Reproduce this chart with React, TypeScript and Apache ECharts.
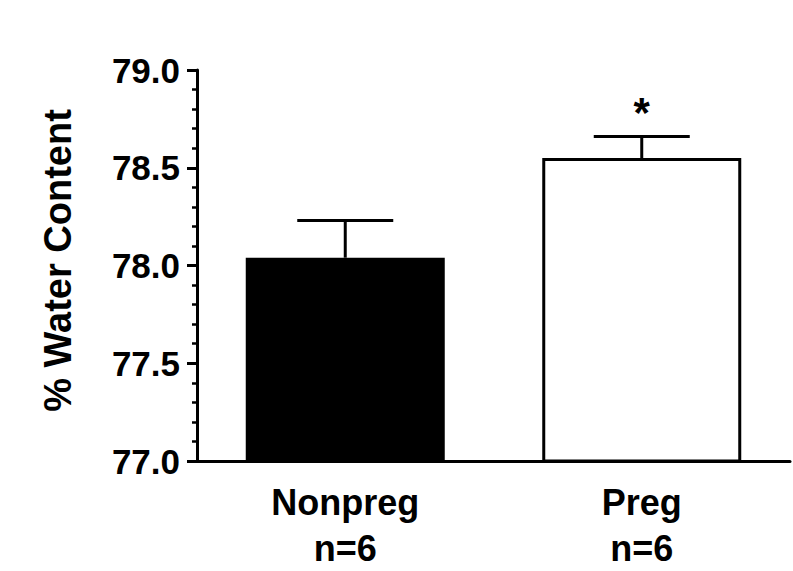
import React, { useEffect, useRef } from "react";
import * as echarts from "echarts";

const categories = ["Nonpreg\nn=6", "Preg\nn=6"];
const means = [78.04, 78.55];
const errorTops = [78.23, 78.66];
const significance = ["", "*"];
const barColors = ["#000000", "#ffffff"];
const yMin = 77.0;
const yMax = 79.0;
const yInterval = 0.5;
const yTitle = "% Water Content";

const FONT = "'Liberation Sans', Arial, sans-serif";

export default function App() {
  const ref = useRef<HTMLDivElement>(null);
  useEffect(() => {
    if (!ref.current) return;
    const chart = echarts.init(ref.current, null, { renderer: "svg" });
    chart.setOption({
      animation: false,
      backgroundColor: "#ffffff",
      grid: { left: 197, right: 3, top: 70, bottom: 107, containLabel: false },
      xAxis: {
        type: "category",
        data: categories,
        axisLine: { lineStyle: { color: "#000", width: 3 } },
        axisTick: { show: false },
        axisLabel: {
          color: "#000",
          fontFamily: FONT,
          fontWeight: "bold",
          fontSize: 36,
          lineHeight: 46,
          margin: 18,
        },
      },
      yAxis: {
        type: "value",
        min: yMin,
        max: yMax,
        interval: yInterval,
        name: yTitle,
        nameLocation: "middle",
        nameRotate: 90,
        nameGap: 120,
        nameTextStyle: {
          color: "#000",
          fontFamily: FONT,
          fontWeight: "bold",
          fontSize: 38,
          padding: [0, 0, 0, 10],
        },
        splitLine: { show: false },
        axisLine: { show: true, lineStyle: { color: "#000", width: 3 } },
        axisTick: { show: true, length: 10, lineStyle: { color: "#000", width: 3 } },
        minorTick: { show: true, splitNumber: 5, length: 5, lineStyle: { color: "#000", width: 2.5 } },
        axisLabel: {
          color: "#000",
          fontFamily: FONT,
          fontWeight: "bold",
          fontSize: 35,
          margin: 17,
          formatter: (v: number) => v.toFixed(1),
        },
      },
      series: [
        {
          type: "bar",
          barWidth: 199,
          data: means.map((v, i) => ({
            value: v,
            itemStyle: { color: barColors[i], borderColor: "#000", borderWidth: 3 },
          })),
        },
        {
          type: "custom",
          data: errorTops.map((t, i) => [i, means[i], t]),
          renderItem: (params: any, api: any) => {
            const i = api.value(0);
            const base = api.coord([i, api.value(1)]);
            const top = api.coord([i, api.value(2)]);
            const half = 48;
            const children: any[] = [
              {
                type: "line",
                shape: { x1: base[0], y1: base[1], x2: top[0], y2: top[1] },
                style: { stroke: "#000", lineWidth: 3 },
              },
              {
                type: "line",
                shape: { x1: top[0] - half, y1: top[1], x2: top[0] + half, y2: top[1] },
                style: { stroke: "#000", lineWidth: 3 },
              },
            ];
            const sig = significance[params.dataIndex];
            if (sig) {
              children.push({
                type: "text",
                style: {
                  text: sig,
                  x: top[0],
                  y: top[1] - 3,
                  align: "center",
                  verticalAlign: "bottom",
                  fill: "#000",
                  font: `bold 42px ${FONT}`,
                },
              });
            }
            return { type: "group", children };
          },
          z: 5,
        },
      ],
    });
    return () => chart.dispose();
  }, []);
  return (
    <div
      ref={ref}
      style={{ position: "fixed", left: 0, top: 0, width: 793, height: 571, background: "#fff" }}
    />
  );
}
